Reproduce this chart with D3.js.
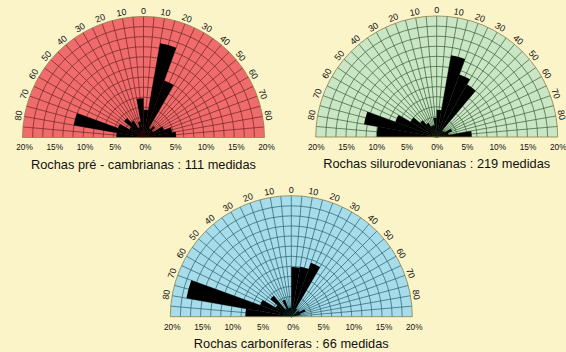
<!DOCTYPE html>
<html>
<head>
<meta charset="utf-8">
<script src="https://cdn.jsdelivr.net/npm/d3@7/dist/d3.min.js"></script>
<style>
  html, body { margin: 0; padding: 0; background: #FBF4C9; }
  svg { display: block; font-family: "Liberation Sans", Arial, sans-serif; }
</style>
</head>
<body>
<svg id="chart" width="566" height="352"></svg>
<script>
// Direction classes: 10-degree bins from N90W (-90) to N90E (+90)
const binStarts = [-90, -80, -70, -60, -50, -40, -30, -20, -10, 0, 10, 20, 30, 40, 50, 60, 70, 80];
const binWidth = 10;

// Frequency (%) of measurements in each bin
const preCambrian    = [4.5, 11.7, 4.5, 2.7, 4.2, 3.2, 1.8, 2.7, 6.5, 4.6, 15.8, 10.0, 1.8, 2.5, 1.8, 3.6, 4.8, 5.4];
const siluroDevonian = [9.9, 12.2, 7.3, 5.0, 3.6, 2.7, 2.0, 2.0, 3.2, 4.5, 13.7, 11.0, 10.0, 1.4, 1.5, 2.7, 2.0, 5.8];
const carboniferous  = [7.6, 17.6, 5.5, 3.0, 4.5, 1.5, 3.0, 1.5, 1.5, 8.2, 8.4, 9.5, 1.5, 0, 1.5, 2.5, 1.5, 0];

// Axis labels
const angleTicks = [-80, -70, -60, -50, -40, -30, -20, -10, 0, 10, 20, 30, 40, 50, 60, 70, 80];
const percentTicks = [-20, -15, -10, -5, 0, 5, 10, 15, 20];
const maxPercent = 20;
const ringCount = 12;

const titles = [
  "Rochas pré - cambrianas : 111 medidas",
  "Rochas silurodevonianas : 219 medidas",
  "Rochas carboníferas : 66 medidas"
];

const panels = [
  { values: preCambrian,    title: titles[0], cx: 143.5, cy: 137.5, fill: "#EF6B6C", grid: "#6E2420", shift: 1.5 },
  { values: siluroDevonian, title: titles[1], cx: 436.7, cy: 137.0, fill: "#CAE6C5", grid: "#355F37", shift: 0 },
  { values: carboniferous,  title: titles[2], cx: 291.3, cy: 316.7, fill: "#A7DDEA", grid: "#285E6A", shift: 1.5 }
];

const R = 121;
const deg = Math.PI / 180;
const svg = d3.select("#chart");

panels.forEach(p => {
  const g = svg.append("g").attr("transform", `translate(${p.cx},${p.cy})`);
  const r = d3.scaleLinear().domain([0, maxPercent]).range([0, R]);

  // Half-disc background
  const half = d3.arc().innerRadius(0).outerRadius(R).startAngle(-Math.PI / 2).endAngle(Math.PI / 2);
  g.append("path").attr("d", half()).attr("fill", p.fill);

  // Grid: concentric rings
  const rings = d3.range(1, ringCount).map(i => i * maxPercent / ringCount);
  g.selectAll("path.ring").data(rings).join("path")
    .attr("class", "ring")
    .attr("d", v => { const pa = d3.path(); pa.moveTo(-r(v), 0); pa.arc(0, 0, r(v), Math.PI, 2 * Math.PI); return pa.toString(); })
    .attr("fill", "none").attr("stroke", p.grid).attr("stroke-width", 0.7);

  // Grid: spokes every 5 degrees
  const spokes = d3.range(-85, 86, 5);
  g.selectAll("line.spoke").data(spokes).join("line")
    .attr("class", "spoke")
    .attr("x1", 0).attr("y1", 0)
    .attr("x2", a => R * Math.sin(a * deg))
    .attr("y2", a => -R * Math.cos(a * deg))
    .attr("stroke", p.grid).attr("stroke-width", 0.7);

  // Rose petals
  const petal = d3.arc().innerRadius(0);
  g.selectAll("path.petal").data(binStarts.map((a, i) => ({ a, v: p.values[i] })).filter(d => d.v > 0)).join("path")
    .attr("class", "petal")
    .attr("d", d => petal({ outerRadius: r(d.v), startAngle: d.a * deg, endAngle: (d.a + binWidth) * deg }))
    .attr("fill", "#000");

  // Outline and baseline
  g.append("path").attr("d", half()).attr("fill", "none").attr("stroke", "#8A7F4A").attr("stroke-width", 0.8);

  // Angle labels around the arc
  g.selectAll("text.ang").data(angleTicks).join("text")
    .attr("class", "ang")
    .attr("transform", a => {
      const rr = R + 6;
      return `translate(${rr * Math.sin(a * deg)},${-rr * Math.cos(a * deg)}) rotate(${a})`;
    })
    .attr("text-anchor", "middle")
    .attr("dy", "0.35em")
    .attr("font-size", 9)
    .attr("fill", "#111")
    .text(a => Math.abs(a));

  // Percentage axis along the base
  const x = d3.scaleLinear().domain([-maxPercent, maxPercent]).range([-R, R]);
  const axis = g.append("g").attr("transform", `translate(${p.shift},4)`)
    .call(d3.axisBottom(x).tickValues(percentTicks).tickSize(0).tickFormat(v => Math.abs(v) + "%"));
  axis.select(".domain").remove();
  axis.selectAll("text").attr("font-size", 8.3).attr("font-family", "Liberation Sans, Arial, sans-serif").attr("fill", "#111");

  // Title
  g.append("text")
    .attr("x", 0).attr("y", 31)
    .attr("text-anchor", "middle")
    .attr("font-size", 12.8)
    .attr("fill", "#111")
    .text(p.title);
});
</script>
</body>
</html>
